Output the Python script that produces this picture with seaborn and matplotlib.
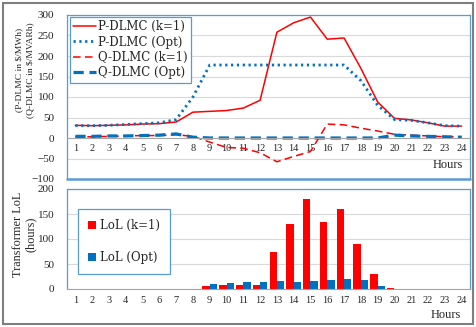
import matplotlib
matplotlib.use('Agg')
import matplotlib.pyplot as plt
import seaborn as sns
import pandas as pd
import numpy as np
from matplotlib.patches import Rectangle

# data
hours = list(range(1, 25))
p_dlmc_k1 = [31, 30, 31, 32, 34, 35, 39, 63, 65, 67, 73, 92, 258, 281, 295, 241, 244, 170, 88, 48, 44, 37, 29, 29]
p_dlmc_opt = [30, 30, 31, 33, 35, 37, 45, 100, 178, 178, 178, 178, 178, 178, 178, 178, 178, 140, 80, 45, 43, 37, 30, 29]
q_dlmc_k1 = [3, 3, 4, 5, 6, 6, 8, 4, -10, -23, -25, -36, -58, -45, -33, 34, 32, 24, 17, 9, 7, 5, 3, 3]
q_dlmc_opt = [4, 4, 5, 5, 6, 7, 10, 2, 0, 0, 0, 0, 0, 0, 0, 0, 0, 0, 0, 7, 5, 4, 3, 2]
lol_k1 = [0, 0, 0, 0, 0, 0, 0, 0.5, 7, 8, 8, 9, 75, 130, 181, 134, 161, 90, 31, 2, 0.3, 0.2, 0, 0]
lol_opt = [0, 0, 0, 0, 0, 0, 0, 0, 11, 12, 14, 14, 16, 14, 16, 18, 21, 19, 7, 1, 0, 0, 0, 0]

RED = '#FF0000'
BLUE = '#0070C0'
FRAME = '#5B9BD5'
GRID = '#D9D9D9'
TXT = 'Liberation Serif'
LEG = 'DejaVu Serif'

sns.set_style('white')
plt.rcParams['font.family'] = [TXT, 'DejaVu Serif']

fig = plt.figure(figsize=(4.77, 3.27), dpi=100)
W, H = 477, 327

def ax_rect(x0, y0, x1, y1):
    return [x0 / W, 1 - y1 / H, (x1 - x0) / W, (y1 - y0) / H]

ax1 = fig.add_axes(ax_rect(67, 15, 470, 179))
ax2 = fig.add_axes(ax_rect(67, 189, 470, 289))

pos = np.arange(len(hours))

# ---- top panel: DLMC lines
series = [
    ('P-DLMC (k=1)', p_dlmc_k1, RED, '-', 1.1),
    ('P-DLMC (Opt)', p_dlmc_opt, BLUE, (0, (0.8, 1.3)), 2.0),
    ('Q-DLMC (k=1)', q_dlmc_k1, RED, (0, (5, 2.8)), 1.1),
    ('Q-DLMC (Opt)', q_dlmc_opt, BLUE, (0, (3.2, 1.8)), 2.3),
]
for name, vals, col, ls, lw in series:
    sns.lineplot(x=pos, y=vals, ax=ax1, color=col, linestyle=ls, linewidth=lw, label=name)

ax1.spines['bottom'].set_position(('data', 0))
ax1.set_ylim(-100, 300)
ax1.set_xlim(-0.5, 23.5)
ax1.set_yticks(range(-100, 301, 50))
ax1.yaxis.grid(True, color=GRID, linewidth=0.8)
ax1.set_axisbelow(True)
ax1.set_xticks(pos)
ax1.set_xticklabels([str(h) for h in hours])
ax1.tick_params(axis='y', labelsize=8, length=0, pad=9)
ax1.tick_params(axis='x', labelsize=7.5, length=0, pad=4)
for s in ['left', 'right', 'top']:
    ax1.spines[s].set_color(FRAME)
    ax1.spines[s].set_linewidth(0.9)
ax1.spines['bottom'].set_color('#A6A6A6')
ax1.spines['bottom'].set_linewidth(0.8)
ax1.axhline(-100, color=FRAME, linewidth=1.8, clip_on=False)
ax1.set_xlabel('')
ax1.set_ylabel('')

leg1 = ax1.legend(loc='upper left', bbox_to_anchor=(0.007, 0.99), borderaxespad=0,
                  prop={'family': LEG, 'size': 8.5}, handlelength=1.9, labelspacing=0.2,
                  handletextpad=0.2, borderpad=0.3, fancybox=False, framealpha=1)
leg1.get_frame().set_edgecolor(FRAME)
leg1.get_frame().set_linewidth(0.9)

# ---- bottom panel: transformer LoL bars
lol = pd.DataFrame({
    'hour': [str(h) for h in hours] * 2,
    'lol': lol_k1 + lol_opt,
    'case': ['LoL (k=1)'] * 24 + ['LoL (Opt)'] * 24,
})
sns.barplot(data=lol, x='hour', y='lol', hue='case', ax=ax2,
            palette=[RED, BLUE], width=0.88, saturation=1, gap=0, linewidth=0)
ax2.set_ylim(0, 200)
ax2.set_xlim(-0.5, 23.5)
ax2.set_yticks(range(0, 201, 50))
ax2.yaxis.grid(True, color=GRID, linewidth=0.8)
ax2.set_axisbelow(True)
ax2.tick_params(axis='y', labelsize=8, length=0, pad=9)
ax2.tick_params(axis='x', labelsize=7.5, length=0, pad=5)
for s in ['left', 'right', 'top']:
    ax2.spines[s].set_color(FRAME)
    ax2.spines[s].set_linewidth(0.9)
ax2.spines['bottom'].set_color('#A6A6A6')
ax2.spines['bottom'].set_linewidth(0.8)
ax2.set_xlabel('')
ax2.set_ylabel('')

h, l = ax2.get_legend_handles_labels()
leg2 = ax2.legend(h, l, loc='upper left', bbox_to_anchor=(0.027, 0.80), borderaxespad=0,
                  prop={'family': LEG, 'size': 8.5}, handlelength=0.7, handleheight=0.7,
                  labelspacing=1.6, handletextpad=0.35, borderpad=0.85, fancybox=False,
                  framealpha=1)
leg2.get_frame().set_edgecolor(FRAME)
leg2.get_frame().set_linewidth(0.9)

# labels
fig.text(25 / W, 1 - 70 / H, '(P-DLMC in $/MWh)\n(Q-DLMC in $/MVARh)', rotation=90,
         ha='center', va='center', multialignment='center', fontsize=6.8, linespacing=1.45)
fig.text(24 / W, 1 - 234 / H, 'Transformer LoL\n(hours)', rotation=90,
         ha='center', va='center', multialignment='center', fontsize=8.8, linespacing=1.1)
fig.text(463 / W, 1 - 165 / H, 'Hours', ha='right', va='center', fontsize=9)
fig.text(461 / W, 1 - 315 / H, 'Hours', ha='right', va='center', fontsize=9)

# outer border
fig.patches.append(Rectangle((3 / W, 3 / H), 470 / W, 321 / H, transform=fig.transFigure,
                             fill=False, edgecolor='#7F7F7F', linewidth=1.5))

fig.savefig('out.png', dpi=100, facecolor='white')
